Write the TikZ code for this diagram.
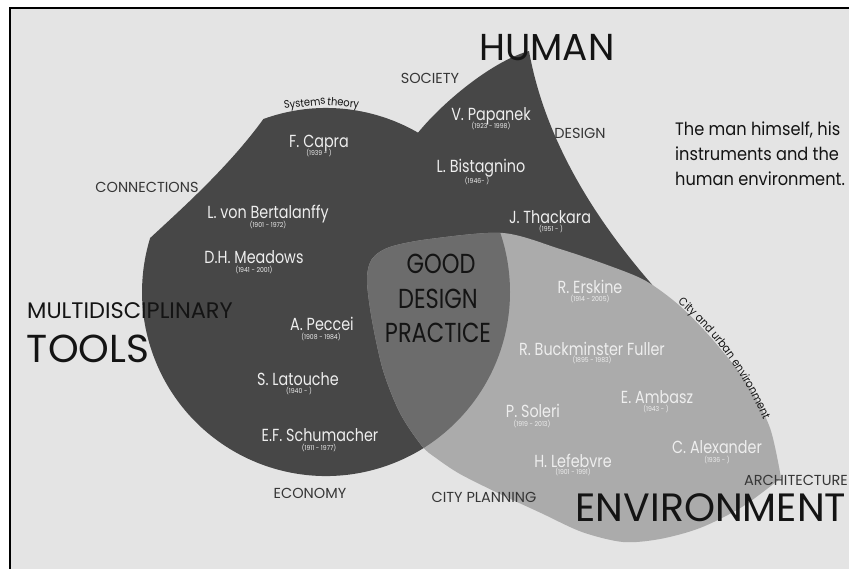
\documentclass[tikz,border=0pt]{standalone}
\usepackage{fontspec}
\setmainfont{Poppins}[FakeStretch=0.9]
\newfontfamily\widef{Poppins}
\newfontfamily\narrowf{Poppins}[FakeStretch=0.82]
\usetikzlibrary{decorations.text}
\definecolor{bgc}{HTML}{E4E4E4}
\definecolor{darkc}{HTML}{474747}
\definecolor{lensc}{HTML}{6C6C6C}
\definecolor{envc}{HTML}{ABABAB}
\definecolor{inkc}{HTML}{141414}
\definecolor{labc}{HTML}{363636}
\definecolor{namec}{HTML}{EEEEEE}
\tikzset{
  namest/.style={text=namec, font=\narrowf\fontsize{17.5}{17.5}\selectfont, anchor=base, inner sep=0pt},
  yearst/.style={text=namec, font=\fontsize{6.8}{6.8}\selectfont, anchor=base, inner sep=0pt},
  labst/.style={text=labc, font=\widef\fontsize{14.5}{14.5}\selectfont, anchor=base, inner sep=0pt},
  bigst/.style={text=inkc, font=\widef\fontsize{37.5}{37.5}\selectfont, anchor=base, inner sep=0pt},
  midst/.style={text=inkc, font=\narrowf\fontsize{27.5}{27.5}\selectfont, anchor=base, inner sep=0pt},
  notest/.style={text=inkc, font=\fontsize{18}{18}\selectfont, anchor=base west, inner sep=0pt},
  arcst/.style={text=inkc, font=\fontsize{11}{11}\selectfont, anchor=center, inner sep=0pt},
}
\begin{document}
\begin{tikzpicture}[x=1pt,y=-1pt]
\useasboundingbox (0,0) rectangle (849,568);
\clip (0,0) rectangle (849,568);
\fill[white] (0,0) rectangle (849,568);
\fill[bgc] (9.5,7.7) rectangle (860,580);
\draw[line width=2pt,black] (9.5,580) -- (9.5,7.7) -- (860,7.7);
% tools shape (circle with cut upper-left)
\fill[darkc] (263.4,119) arc[start angle=109.9, end angle=-197.06, radius=184pt]
   .. controls (178,212) and (228,168) .. (263.4,119) -- cycle;
% human shape
\fill[darkc] (417,134) .. controls (440,105) and (490,62) .. (529,51)
   .. controls (545,140) and (598,238) .. (710,345) -- (450,300) -- cycle;
% environment shape
\fill[envc] plot[smooth] coordinates {(781,478) (742,507) (700,528) (660,539) (623,542) (582,532) (541,513) (500,494) (460,474) (436,458) (422,446) (400,413) (383,370) (372,320) (367,280) (372,259) (390,247) (430,239) (503,233) (560,249) (610,266) (646,281) (680,306) (713,340) (747,383) (770,428) (781,478)} -- cycle;
% lens
\begin{scope}
\clip (326,292) circle[radius=184pt];
\fill[lensc] plot[smooth] coordinates {(781,478) (742,507) (700,528) (660,539) (623,542) (582,532) (541,513) (500,494) (460,474) (436,458) (422,446) (400,413) (383,370) (372,320) (367,280) (372,259) (390,247) (430,239) (503,233) (560,249) (610,266) (646,281) (680,306) (713,340) (747,383) (770,428) (781,478)} -- cycle;
\end{scope}
% curved labels
\node[arcst, rotate=6.4] (sys1) at (304.8,104.2) {Systems};
\node[arcst, rotate=-5.2] (sys2) at (343.2,103.8) {theory};
\path[decorate, decoration={text along path, text align=center, text color=inkc,
   text={|\fontsize{11.5}{11.5}\selectfont|City and urban environment}}]
   (664,292) .. controls (704,322) and (744,368) .. (770,436);
% big words
\node[bigst] (human) at (547,60) {HUMAN};
\node[bigst, font=\widef\fontsize{39}{39}\selectfont] (tools) at (88,362) {TOOLS};
\node[bigst, font=\widef\fontsize{39.5}{39.5}\selectfont] (env) at (711,521) {ENVIRONMENT};
\node[bigst, font=\widef\fontsize{22.5}{22.5}\selectfont] (multi) at (130,318) {MULTIDISCIPLINARY};
\node[midst] (good) at (441,273) {GOOD};
\node[midst] (design) at (438,308) {DESIGN};
\node[midst] (practice) at (438,342) {PRACTICE};
% small labels
\node[labst] (society) at (430,83) {SOCIETY};
\node[labst] (designl) at (580,138) {DESIGN};
\node[labst] (connect) at (147,192) {CONNECTIONS};
\node[labst] (economy) at (310,498) {ECONOMY};
\node[labst] (cityp) at (484,502) {CITY PLANNING};
\node[labst] (archi) at (796,485) {ARCHITECTURE};
% note
\node[notest] (note1) at (675,135) {The man himself, his};
\node[notest] (note2) at (675,160) {instruments and the};
\node[notest] (note3) at (675,185) {human environment.};
% names
\node[namest] (capra) at (319,147) {F. Capra};
\node[yearst] (capray) at (319,155) {(1939 - )};
\node[namest] (berta) at (268,218) {L. von Bertalanffy};
\node[yearst] (bertay) at (268,227) {(1901 - 1972)};
\node[namest] (meadows) at (254,263) {D.H. Meadows};
\node[yearst] (meadowsy) at (254,272) {(1941 - 2001)};
\node[namest] (peccei) at (322,330) {A. Peccei};
\node[yearst] (pecceiy) at (321,339) {(1908 - 1984)};
\node[namest] (latouche) at (298,385) {S. Latouche};
\node[yearst] (latouchey) at (299,393) {(1940 - )};
\node[namest] (schum) at (320,441) {E.F. Schumacher};
\node[yearst] (schumy) at (319,450) {(1911 - 1977)};
\node[namest] (papanek) at (491,120) {V. Papanek};
\node[yearst] (papaneky) at (491,128) {(1923 - 1998)};
\node[namest] (bista) at (481,172) {L. Bistagnino};
\node[yearst] (bistay) at (477,183) {(1946- )};
\node[namest] (thack) at (550,223) {J. Thackara};
\node[yearst] (thacky) at (551,231) {(1951 - )};
\node[namest] (erskine) at (590,293) {R. Erskine};
\node[yearst] (erskiney) at (590,301) {(1914 - 2005)};
\node[namest] (fuller) at (592,355) {R. Buckminster Fuller};
\node[yearst] (fullery) at (592,362) {(1895 - 1983)};
\node[namest] (ambasz) at (657,403) {E. Ambasz};
\node[yearst] (ambaszy) at (656,411) {(1943 - )};
\node[namest] (soleri) at (533,417) {P. Soleri};
\node[yearst] (soleriy) at (532,426) {(1919 - 2013)};
\node[namest] (alex) at (717,453) {C. Alexander};
\node[yearst] (alexy) at (717,462) {(1936 - )};
\node[namest] (lefeb) at (573,467) {H. Lefebvre};
\node[yearst] (lefeby) at (573,474) {(1901 - 1991)};
\end{tikzpicture}
\end{document}
